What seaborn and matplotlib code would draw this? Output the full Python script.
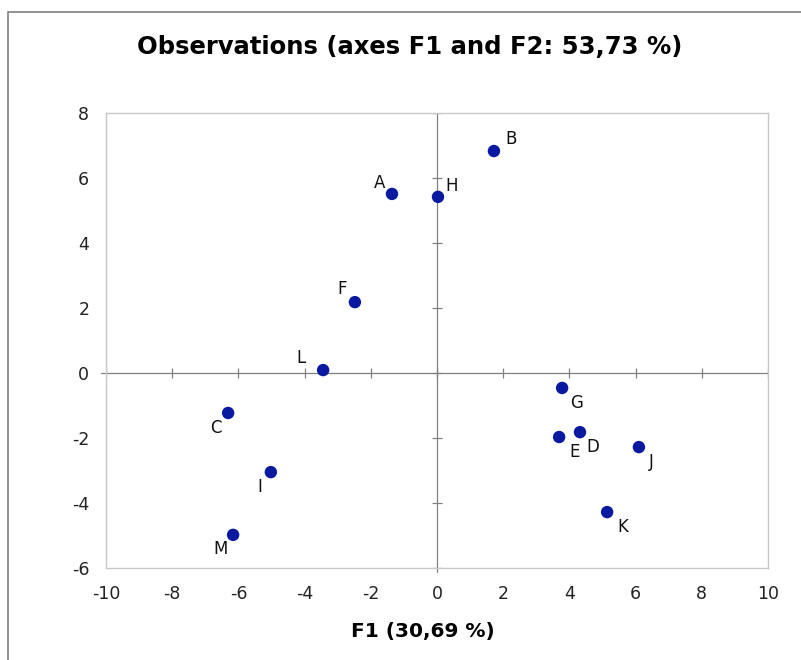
import numpy as np
import pandas as pd
import seaborn as sns
import matplotlib.pyplot as plt
from matplotlib.patches import Rectangle

# ===== 数据 =====
labels = ['A', 'B', 'C', 'D', 'E', 'F', 'G', 'H', 'I', 'J', 'K', 'L', 'M']
f1 = [-1.36, 1.72, -6.31, 4.32, 3.69, -2.48, 3.78, 0.03, -5.02, 6.10, 5.14, -3.44, -6.16]
f2 = [5.51, 6.83, -1.23, -1.82, -1.97, 2.18, -0.46, 5.42, -3.05, -2.28, -4.28, 0.09, -4.98]
# 标签偏移（像素）
label_dx = [-12, 17, -12, 13, 15, -13, 14, 14, -11, 12, 16, -22, -13]
label_dy = [11, 12, -15, -15, -15, 13, -15, 11, -15, -15, -15, 12, -14]

xticks = list(range(-10, 11, 2))
yticks = list(range(-6, 9, 2))

df = pd.DataFrame({'F1': f1, 'F2': f2, 'obs': labels})

sns.set_style('white')
plt.rcParams['font.family'] = ['DejaVu Sans']
plt.rcParams['axes.unicode_minus'] = False

fig = plt.figure(figsize=(8.01, 6.60), dpi=100)
ax = fig.add_axes([106 / 801, 1 - 568 / 660, (768 - 106) / 801, (568 - 113) / 660])

# 外框
fig.patches.append(Rectangle((8 / 801, -0.1), 1.2, 1 - 12 / 660 + 0.1,
                             transform=fig.transFigure, fill=False,
                             edgecolor='#808080', linewidth=1.2))

# 中心坐标轴
ax.plot([-10.15, 10], [0, 0], color='#808080', lw=0.9, clip_on=False, zorder=1)
ax.plot([0, 0], [-6.12, 8], color='#808080', lw=0.9, clip_on=False, zorder=1)
ax.plot(xticks, [0] * len(xticks), ls='none', marker='|', ms=7, mew=0.9,
        color='#808080', zorder=1)
ax.plot([0] * len(yticks), yticks, ls='none', marker='_', ms=7, mew=0.9,
        color='#808080', zorder=1)

sns.scatterplot(data=df, x='F1', y='F2', ax=ax, color='#0a1aa0', s=80,
                edgecolor='none', zorder=3, legend=False)

for lab, x, y, dx, dy in zip(labels, f1, f2, label_dx, label_dy):
    ax.annotate(lab, (x, y), xytext=(dx, dy), textcoords='offset pixels',
                ha='center', va='center', fontsize=12, color='#111111')

ax.set_xlim(-10, 10)
ax.set_ylim(-6, 8)
ax.set_xticks(xticks)
ax.set_yticks(yticks)
ax.tick_params(length=0, labelsize=12.5, colors='#222222', pad=12)
for s in ax.spines.values():
    s.set_color('#c8c8c8')
    s.set_linewidth(1)

ax.set_xlabel('')
ax.set_ylabel('')
fig.text(423 / 801, 1 - 632 / 660, 'F1 (30,69 %)', ha='center', va='center',
         fontsize=14.5, fontweight='bold', color='black')
fig.text(410 / 801, 1 - 47 / 660, 'Observations (axes F1 and F2: 53,73 %)',
         ha='center', va='center', fontsize=17.5, fontweight='bold', color='black')

fig.savefig('out.png', dpi=100)
plt.close(fig)
